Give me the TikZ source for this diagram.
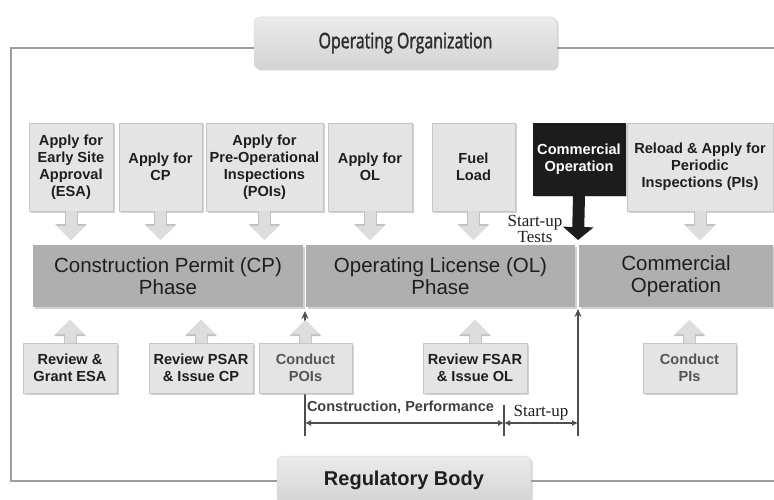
\documentclass[tikz,border=0pt]{standalone}
\usepackage{fontspec}
\setmainfont{Liberation Sans}
\newfontfamily\serifface{Liberation Serif}
\newfontfamily\headface[FakeStretch=0.74,FakeBold=1.6]{Open Sans}
\usetikzlibrary{arrows.meta,shadows,calc}

\definecolor{framegray}{HTML}{9C9C9C}
\definecolor{boxfill}{HTML}{E4E4E4}
\definecolor{boxedge}{HTML}{C6C6C6}
\definecolor{barfill}{HTML}{AFAFAF}
\definecolor{darktext}{HTML}{1E1E1E}
\definecolor{softtext}{HTML}{555555}
\definecolor{arrowfill}{HTML}{DDDDDD}
\definecolor{arrowedge}{HTML}{C2C2C2}
\definecolor{linegray}{HTML}{4E4E4E}
\definecolor{blackbox}{HTML}{1C1C1C}

\begin{document}
\begin{tikzpicture}[x=1pt,y=-1pt,
  every node/.style={inner sep=0pt, outer sep=0pt},
  cardshadow/.style={drop shadow={shadow xshift=1.5pt, shadow yshift=-1.5pt, fill=black!35, opacity=0.5}},
  stepcard/.style={rectangle, fill=boxfill, draw=boxedge, line width=0.6pt, align=center,
    font=\fontsize{14.6}{17}\selectfont\bfseries, text=darktext, cardshadow},
  softcard/.style={stepcard, text=softtext},
  phasebar/.style={rectangle, fill=barfill, align=center,
    font=\fontsize{20.5}{22}\selectfont, text=darktext, cardshadow},
  headbox/.style={rectangle, rounded corners=6pt, top color=black!8, bottom color=black!17,
    draw=black!15, line width=0.5pt, cardshadow},
  framerule/.style={draw=framegray, line width=1.4pt},
  softblock/.style={line width=11pt, draw=arrowfill, -{Triangle[width=28pt,length=14pt]},
    preaction={draw=arrowedge, line width=13pt, -{Triangle[width=31pt,length=16pt]}}},
  softdown/.style={softblock, shorten >=5pt},
  softup/.style={softblock, shorten >=13pt},
  boldarrow/.style={line width=12pt, draw=blackbox, -{Triangle[width=30pt,length=13pt]}},
  markerline/.style={draw=linegray, line width=1.3pt},
  markerarrow/.style={markerline, -{Stealth[length=8pt,width=7pt]}},
  spanarrow/.style={markerline, {Latex[length=6pt,width=6pt]}-{Latex[length=6pt,width=6pt]}}
]
\useasboundingbox (0,0) rectangle (774,500);

% outer frame corners and fixed points
\coordinate (tl) at (11,48);
\coordinate (bl) at (11,481);
\coordinate (tr) at (774,48);
\coordinate (br) at (774,481);
\coordinate (poibase) at (305,436);
\coordinate (opbase) at (578,436);
\coordinate (spanmid) at (504,423);
\coordinate (ticktop) at (504,405);
\coordinate (tickbot) at (504,436);
\coordinate (gaptop) at (578,240);

% organisation headers
\node[headbox, minimum width=303pt, minimum height=52pt,
      font=\headface\fontsize{21.5}{24}\selectfont, text=black!82] (opor) at (405.5,43) {Operating Organization};
\node[headbox, minimum width=254pt, minimum height=48pt,
      font=\fontsize{20}{24}\selectfont\bfseries, text=darktext] (reg) at (404,480) {Regulatory Body};

\draw[framerule] (opor.west |- tl) -- (tl) -- (bl) -- (reg.west |- bl);
\draw[framerule] (opor.east |- tr) -- (tr);
\draw[framerule] (reg.east |- br) -- (br);

% phase bars
\node[phasebar, minimum width=270pt, minimum height=62pt] (cpphase) at (168,276) {Construction Permit (CP)\\Phase};
\node[phasebar, minimum width=269pt, minimum height=62pt] (olphase) at (440.5,276) {Operating License (OL)\\Phase};
\node[phasebar, minimum width=194pt, minimum height=62pt] (cophase) at (676,276) {Commercial\\Operation};

% milestone markers (behind the review cards)
\draw[markerarrow] (poibase) -- ($(poibase |- cpphase.south)+(0,4)$);
\draw[markerarrow] (opbase) -- ($(opbase |- cophase.south)+(0,2)$);

% applicant steps
\node[stepcard, minimum width=84pt, minimum height=88pt] (esa) at (71,167) {Apply for\\Early Site\\Approval\\(ESA)};
\node[stepcard, minimum width=83pt, minimum height=88pt] (cpapp) at (160.5,167) {Apply for\\CP};
\node[stepcard, minimum width=117pt, minimum height=88pt] (poiapp) at (264.5,167) {Apply for\\Pre-Operational\\Inspections\\(POIs)};
\node[stepcard, minimum width=84pt, minimum height=88pt] (olapp) at (370,167) {Apply for\\OL};
\node[stepcard, minimum width=83pt, minimum height=88pt] (fuel) at (473.5,167) {Fuel\\Load};
\node[stepcard, minimum width=146pt, minimum height=88pt] (reload) at (700,167) {Reload \& Apply for\\Periodic\\Inspections (PIs)};
\node[stepcard, fill=blackbox, draw=blackbox, text=white, minimum width=92pt, minimum height=72pt] (comm) at (579,159) {Commercial\\Operation};

\draw[softdown] (esa.south) -- (esa.south |- cpphase.north);
\draw[softdown] (cpapp.south) -- (cpapp.south |- cpphase.north);
\draw[softdown] (poiapp.south) -- (poiapp.south |- cpphase.north);
\draw[softdown] (olapp.south) -- (olapp.south |- olphase.north);
\draw[softdown] (fuel.south) -- (fuel.south |- olphase.north);
\draw[softdown] (reload.south) -- (reload.south |- cophase.north);
\draw[boldarrow] (comm.south) -- (gaptop);

\node[font=\serifface\fontsize{17}{14}\selectfont, text=darktext, align=center] (sutests) at (535,229) {Start-up\\Tests};

% regulator steps
\node[stepcard, minimum width=94pt, minimum height=50pt] (grant) at (70,368) {Review \&\\Grant ESA};
\node[stepcard, minimum width=104pt, minimum height=50pt] (psar) at (201,368) {Review PSAR\\\& Issue CP};
\node[softcard, minimum width=93pt, minimum height=50pt] (poi) at (305.5,368) {Conduct\\POIs};
\node[stepcard, minimum width=104pt, minimum height=50pt] (fsar) at (475,368) {Review FSAR\\\& Issue OL};
\node[softcard, minimum width=93pt, minimum height=50pt] (pis) at (689.5,368) {Conduct\\PIs};

\draw[softup] (grant.north) -- (grant.north |- cpphase.south);
\draw[softup] (psar.north) -- (psar.north |- cpphase.south);
\draw[softup] (poi.north) -- (poi.north |- cpphase.south);
\draw[softup] (fsar.north) -- (fsar.north |- olphase.south);
\draw[softup] (pis.north) -- (pis.north |- cophase.south);

% construction and start-up spans
\draw[markerline] (ticktop) -- (tickbot);
\draw[spanarrow] (poibase |- spanmid) -- (spanmid);
\draw[spanarrow] (spanmid) -- (opbase |- spanmid);
\node[anchor=west, font=\fontsize{14.5}{17}\selectfont\bfseries, text=black!75] (cplabel) at (307,407) {Construction, Performance};
\node[font=\serifface\fontsize{17}{17}\selectfont, text=darktext] (sulabel) at (541,413) {Start-up};

\end{tikzpicture}
\end{document}
